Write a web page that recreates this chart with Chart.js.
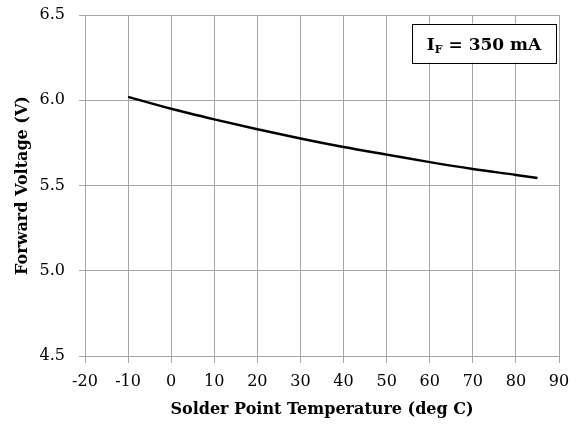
<!DOCTYPE html>
<html>
<head>
<meta charset="utf-8">
<script src="https://cdn.jsdelivr.net/npm/chart.js@4"></script>
<style>
  body { margin: 0; background: #fff; }
  #wrap { width: 576px; height: 428px; }
</style>
</head>
<body>
<div id="wrap"><canvas id="vfChart" width="576" height="428"></canvas></div>
<script>
const temps = [-10, 0, 10, 20, 30, 40, 50, 60, 70, 80, 85];
const voltages = [6.02, 5.95, 5.888, 5.83, 5.776, 5.726, 5.681, 5.637, 5.597, 5.562, 5.544];
const xTicks = [-20, -10, 0, 10, 20, 30, 40, 50, 60, 70, 80, 90];
const yTicks = [4.5, 5.0, 5.5, 6.0, 6.5];
const boxMain = "I";
const boxSub = "F";
const boxRest = " = 350 mA";

const serif = "'DejaVu Serif', 'Liberation Serif', serif";
const gridGray = "#a6a6a6";

// current label box, drawn in the top right corner of the plot
const labelBox = {
  id: "labelBox",
  afterDraw(chart) {
    const c = chart.ctx;
    const area = chart.chartArea;
    const w = 144, h = 39;
    const x = area.right - 3 - w;
    const y = area.top + 8.5;
    c.save();
    c.fillStyle = "#fff";
    c.fillRect(x, y, w, h);
    c.strokeStyle = "#000";
    c.lineWidth = 1;
    c.strokeRect(Math.round(x) + 0.5, Math.round(y) + 0.5, w, h);
    c.fillStyle = "#000";
    c.textBaseline = "alphabetic";
    const big = "bold 17px " + serif;
    const small = "bold 11px " + serif;
    c.font = big;
    const w1 = c.measureText(boxMain).width;
    const w3 = c.measureText(boxRest).width;
    c.font = small;
    const w2 = c.measureText(boxSub).width;
    let tx = x + (w - (w1 + w2 + w3)) / 2;
    const base = y + 26;
    c.font = big;
    c.fillText(boxMain, tx, base);
    tx += w1;
    c.font = small;
    c.fillText(boxSub, tx, base + 3);
    tx += w2;
    c.font = big;
    c.fillText(boxRest, tx, base);
    c.restore();
  }
};

const data = {
  datasets: [
    {
      label: "VF",
      data: temps.map((t, i) => ({x: t, y: voltages[i]})),
      showLine: true,
      borderColor: "#000",
      borderWidth: 2.5,
      pointRadius: 0,
      cubicInterpolationMode: "monotone",
      fill: false,
    },
  ],
};

const config = {
  type: "scatter",
  data: data,
  plugins: [labelBox],
  options: {
    responsive: false,
    animation: false,
    layout: { padding: { top: 15, right: 17, left: 0, bottom: 0 } },
    plugins: { legend: { display: false }, tooltip: { enabled: false } },
    scales: {
      x: {
        type: "linear",
        min: -20,
        max: 90,
        afterBuildTicks: (s) => { s.ticks = xTicks.map(v => ({value: v})); },
        afterFit: (s) => {
          s.height = 72;
          s.paddingLeft = 0;
          s.paddingRight = 0;
        },
        ticks: {
          color: "#000",
          font: { family: serif, size: 16 },
          padding: 9,
          maxRotation: 0,
        },
        grid: { color: gridGray, lineWidth: 1, tickLength: 7, drawTicks: true },
        border: { color: gridGray, width: 1 },
        title: {
          display: true,
          text: "Solder Point Temperature (deg C)",
          color: "#000",
          font: { family: serif, size: 16, weight: "bold" },
          padding: { top: 0, bottom: 9 },
        },
      },
      y: {
        type: "linear",
        min: 4.5,
        max: 6.5,
        afterBuildTicks: (s) => { s.ticks = yTicks.map(v => ({value: v})); },
        afterFit: (s) => {
          s.width = 85;
          s.paddingTop = 0;
          s.paddingBottom = 0;
        },
        ticks: {
          color: "#000",
          font: { family: serif, size: 16 },
          padding: 14,
          callback: (v) => v.toFixed(1),
        },
        grid: { color: gridGray, lineWidth: 1, tickLength: 6, drawTicks: true },
        border: { color: gridGray, width: 1 },
        title: {
          display: true,
          text: "Forward Voltage (V)",
          color: "#000",
          font: { family: serif, size: 16, weight: "bold" },
          padding: { top: 13, bottom: 0 },
        },
      },
    },
  },
};

const ctx = document.getElementById("vfChart");
new Chart(ctx, config);
</script>
</body>
</html>
